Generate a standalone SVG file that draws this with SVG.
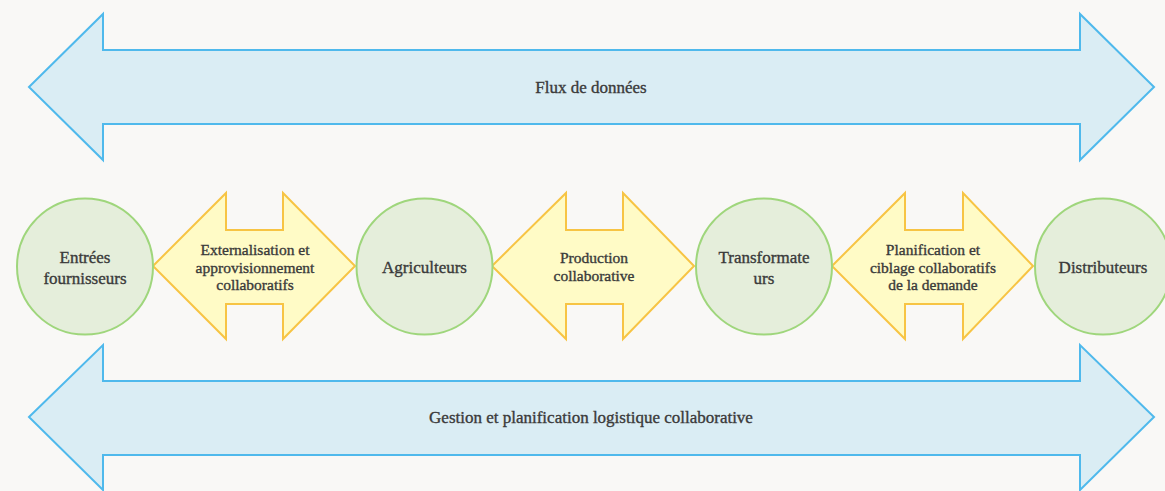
<svg xmlns="http://www.w3.org/2000/svg" width="1165" height="491" viewBox="0 0 1165 491">
<style>
.bg{fill:#f9f8f6}
.big{fill:#daedf4;stroke:#4fb9ec;stroke-width:2;stroke-linejoin:miter}
.dbl{fill:#fffbc6;stroke:#f7c444;stroke-width:2}
.node{fill:#e5eedb;stroke:#9fd67c;stroke-width:2}
text{font-family:'Liberation Serif','Times New Roman','DejaVu Serif',serif;fill:#3a3a3a;text-anchor:middle;stroke:#3a3a3a;stroke-width:0.35}
.t1{font-size:17px}
.t2{font-size:15.5px}
</style>
<rect class="bg" x="0" y="0" width="1165" height="491"/>
<g id="connectors">
<g id="flux">
<polygon class="big" points="29,87 103,14 103,50 1080,50 1080,14 1154,87 1080,160 1080,124 103,124 103,160"/>
<text class="t1" x="591" y="93">Flux de données</text>
</g>
<g id="gestion">
<polygon class="big" points="29,417 103,345 103,381 1080,381 1080,345 1154,417 1080,490 1080,455 103,455 103,490"/>
<text class="t1" x="591" y="423">Gestion et planification logistique collaborative</text>
</g>
<g id="externalisation">
<polygon class="dbl" points="153,266 226,193 226,230 283,230 283,193 355,266 283,339 283,304 226,304 226,339"/>
<text class="t2" x="255" y="255">Externalisation et</text>
<text class="t2" x="255" y="273">approvisionnement</text>
<text class="t2" x="255" y="290">collaboratifs</text>
</g>
<g id="production">
<polygon class="dbl" points="492,266 566,193 566,230 623,230 623,193 694,266 623,339 623,304 566,304 566,339"/>
<text class="t2" x="594" y="263">Production</text>
<text class="t2" x="594" y="281">collaborative</text>
</g>
<g id="planification">
<polygon class="dbl" points="832,266 905,193 905,230 963,230 963,193 1033,266 963,339 963,304 905,304 905,339"/>
<text class="t2" x="933" y="255">Planification et</text>
<text class="t2" x="933" y="273">ciblage collaboratifs</text>
<text class="t2" x="933" y="290">de la demande</text>
</g>
</g>
<g id="entrees">
<circle class="node" cx="85" cy="266.5" r="68"/>
<text class="t1" x="85" y="263">Entrées</text>
<text class="t1" x="85" y="284">fournisseurs</text>
</g>
<g id="agriculteurs">
<circle class="node" cx="424.5" cy="266.5" r="68"/>
<text class="t1" x="424.5" y="273">Agriculteurs</text>
</g>
<g id="transformateurs">
<circle class="node" cx="764" cy="266.5" r="68"/>
<text class="t1" x="764" y="263">Transformate</text>
<text class="t1" x="764" y="284">urs</text>
</g>
<g id="distributeurs">
<circle class="node" cx="1103" cy="266.5" r="68"/>
<text class="t1" x="1103" y="273">Distributeurs</text>
</g>
</svg>
